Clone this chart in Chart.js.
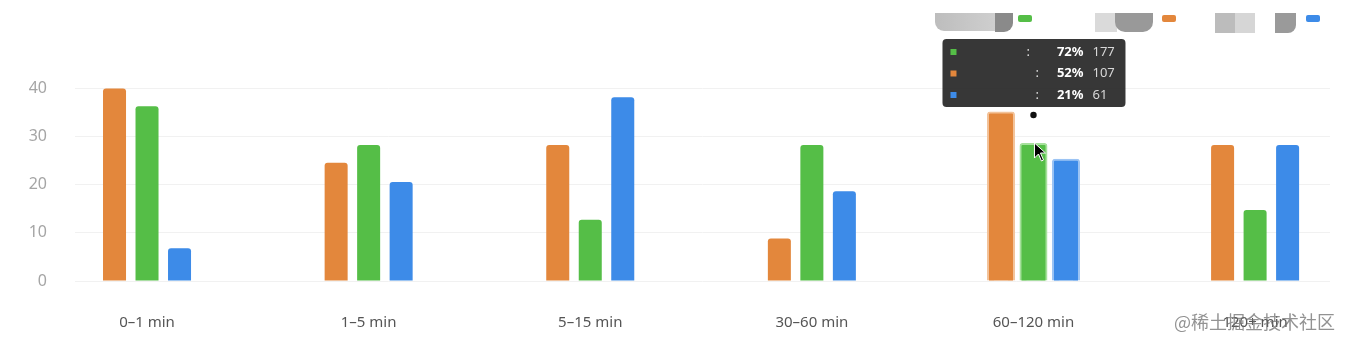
<!DOCTYPE html>
<html>
<head>
<meta charset="utf-8">
<script src="https://cdn.jsdelivr.net/npm/chart.js@4.4.0/dist/chart.umd.min.js"></script>
<style>
  body { margin: 0; background: #fff; }
  #wrap { position: relative; width: 1350px; height: 346px; overflow: hidden; }
  canvas { display: block; }
  .blk { position: absolute; }
  .sw { position: absolute; width: 14px; height: 7px; top: 15px; border-radius: 2px; }
  #mark { position: absolute; left: 1174px; top: 308px; font: 18px "Noto Sans CJK SC", sans-serif; color: rgba(110,110,110,0.75); }
</style>
</head>
<body>
<div id="wrap">
  <canvas id="myChart" width="1350" height="346"></canvas>
  <!-- legend labels are masked in the reference, kept as grey blocks -->
  <div class="blk" style="left:935px;top:13px;width:62px;height:18px;background:linear-gradient(90deg,#bdbdbd,#cfcfcf);border-radius:0 0 0 9px"></div>
  <div class="blk" style="left:995px;top:13px;width:18px;height:19px;background:#8a8a8a;border-radius:0 0 9px 0"></div>
  <div class="sw" style="left:1018px;background:#55BE47"></div>
  <div class="blk" style="left:1095px;top:13px;width:22px;height:19px;background:#dadada"></div>
  <div class="blk" style="left:1115px;top:13px;width:38px;height:19px;background:#999;border-radius:0 0 10px 10px"></div>
  <div class="sw" style="left:1162px;background:#E3873C"></div>
  <div class="blk" style="left:1215px;top:13px;width:20px;height:20px;background:#bcbcbc"></div>
  <div class="blk" style="left:1235px;top:13px;width:20px;height:20px;background:#d6d6d6"></div>
  <div class="blk" style="left:1275px;top:13px;width:21px;height:20px;background:#9a9a9a;border-radius:0 0 8px 0"></div>
  <div class="sw" style="left:1306px;background:#3D8BE8"></div>
  <div id="mark">@稀土掘金技术社区</div>
</div>
<script>
const categories = ['0–1 min', '1–5 min', '5–15 min', '30–60 min', '60–120 min', '120+ min']
const orangeVals = [39.9, 24.5, 28.2, 8.8, 34.6, 28.2]
const greenVals = [36.2, 28.2, 12.7, 28.2, 28.1, 14.7]
const blueVals = [6.8, 20.5, 38.1, 18.6, 24.8, 28.2]
const yTicks = [0, 10, 20, 30, 40]

// tooltip rows (green, orange, blue)
const tipColors = ['#55BE47', '#E3873C', '#3D8BE8']
const tipPct = ['72%', '52%', '21%']
const tipCount = ['177', '107', '61']
const hoverIndex = 4

const toPoints = vals => vals.map((v, i) => ({x: i, y: v}))

const makeSet = (vals, color, light) => ({
    data: toPoints(vals),
    backgroundColor: color,
    borderColor: light,
    borderWidth: ctx => ctx.dataIndex === hoverIndex ? 2 : 0,
    inflateAmount: ctx => ctx.dataIndex === hoverIndex ? 2.5 : 0,
    borderRadius: 3,
    borderSkipped: 'start',
    categoryPercentage: 0.44,
    barPercentage: 0.708
})

const tipPlugin = {
    id: 'tip',
    afterDraw: chart => {
        const ctx = chart.ctx
        const cx = chart.scales.x.getPixelForValue(hoverIndex)
        const top = chart.chartArea.top - 49
        const left = cx - 91
        ctx.save()
        ctx.fillStyle = 'rgba(38,38,38,0.92)'
        ctx.beginPath()
        ctx.roundRect(left, top, 183, 68, 4)
        ctx.fill()
        ctx.textBaseline = 'middle'
        for (let i = 0; i < 3; i++) {
            let y = top + 13 + i * 21.5
            ctx.fillStyle = tipColors[i]
            ctx.fillRect(left + 8, y - 3, 6, 6)
            ctx.fillStyle = '#ddd'
            ctx.font = '13px "Noto Sans", sans-serif'
            ctx.fillText(':', i === 0 ? left + 84 : left + 93, y)
            ctx.fillStyle = '#fff'
            ctx.font = 'bold 13px "Noto Sans", sans-serif'
            ctx.textAlign = 'right'
            ctx.fillText(tipPct[i], left + 141, y)
            ctx.textAlign = 'left'
            ctx.fillStyle = '#d8d8d8'
            ctx.font = '13px "Noto Sans", sans-serif'
            ctx.fillText(tipCount[i], left + 150, y)
        }
        // anchor dot
        ctx.fillStyle = '#111'
        ctx.beginPath()
        ctx.arc(cx, top + 76, 3.2, 0, Math.PI * 2)
        ctx.fill()
        // mouse pointer
        let mx = cx + 1, my = top + 104
        ctx.fillStyle = '#000'
        ctx.strokeStyle = '#fff'
        ctx.lineWidth = 1
        ctx.beginPath()
        ctx.moveTo(mx, my)
        ctx.lineTo(mx, my + 15)
        ctx.lineTo(mx + 4, my + 11)
        ctx.lineTo(mx + 7, my + 18)
        ctx.lineTo(mx + 9, my + 17)
        ctx.lineTo(mx + 6, my + 10)
        ctx.lineTo(mx + 11, my + 10)
        ctx.closePath()
        ctx.fill()
        ctx.stroke()
        ctx.restore()
    }
}

let elem = document.querySelector('#myChart')
new Chart(elem, {
    type: 'bar',
    data: {
        datasets: [
            makeSet(orangeVals, '#E3873C', '#F3C39A'),
            makeSet(greenVals, '#55BE47', '#A6E09C'),
            makeSet(blueVals, '#3D8BE8', '#9CC4F4')
        ]
    },
    options: {
        responsive: false,
        animation: false,
        events: [],
        layout: { padding: { left: 29, right: 20, top: 88, bottom: 5 } },
        plugins: { legend: { display: false }, tooltip: { enabled: false } },
        scales: {
            x: {
                type: 'linear',
                offset: false,
                min: -0.325,
                max: 5.338,
                afterBuildTicks: axis => { axis.ticks = categories.map((c, i) => ({value: i})) },
                afterFit: axis => { axis.height = 60 },
                grid: { display: false, offset: false },
                border: { display: false },
                ticks: {
                    callback: v => categories[v],
                    color: '#555',
                    padding: 25,
                    maxRotation: 0,
                    autoSkip: false,
                    font: { size: 15, family: '"Noto Sans", sans-serif' }
                }
            },
            y: {
                min: 0,
                max: 40,
                afterBuildTicks: axis => { axis.ticks = yTicks.map(v => ({value: v})) },
                afterFit: axis => { axis.width = 46 },
                grid: { color: '#f1f1f1', drawTicks: false },
                border: { display: false },
                ticks: {
                    color: '#a5a5a5',
                    padding: 28,
                    font: { size: 16, family: '"Noto Sans", sans-serif' }
                }
            }
        }
    },
    plugins: [tipPlugin]
})
</script>
</body>
</html>
